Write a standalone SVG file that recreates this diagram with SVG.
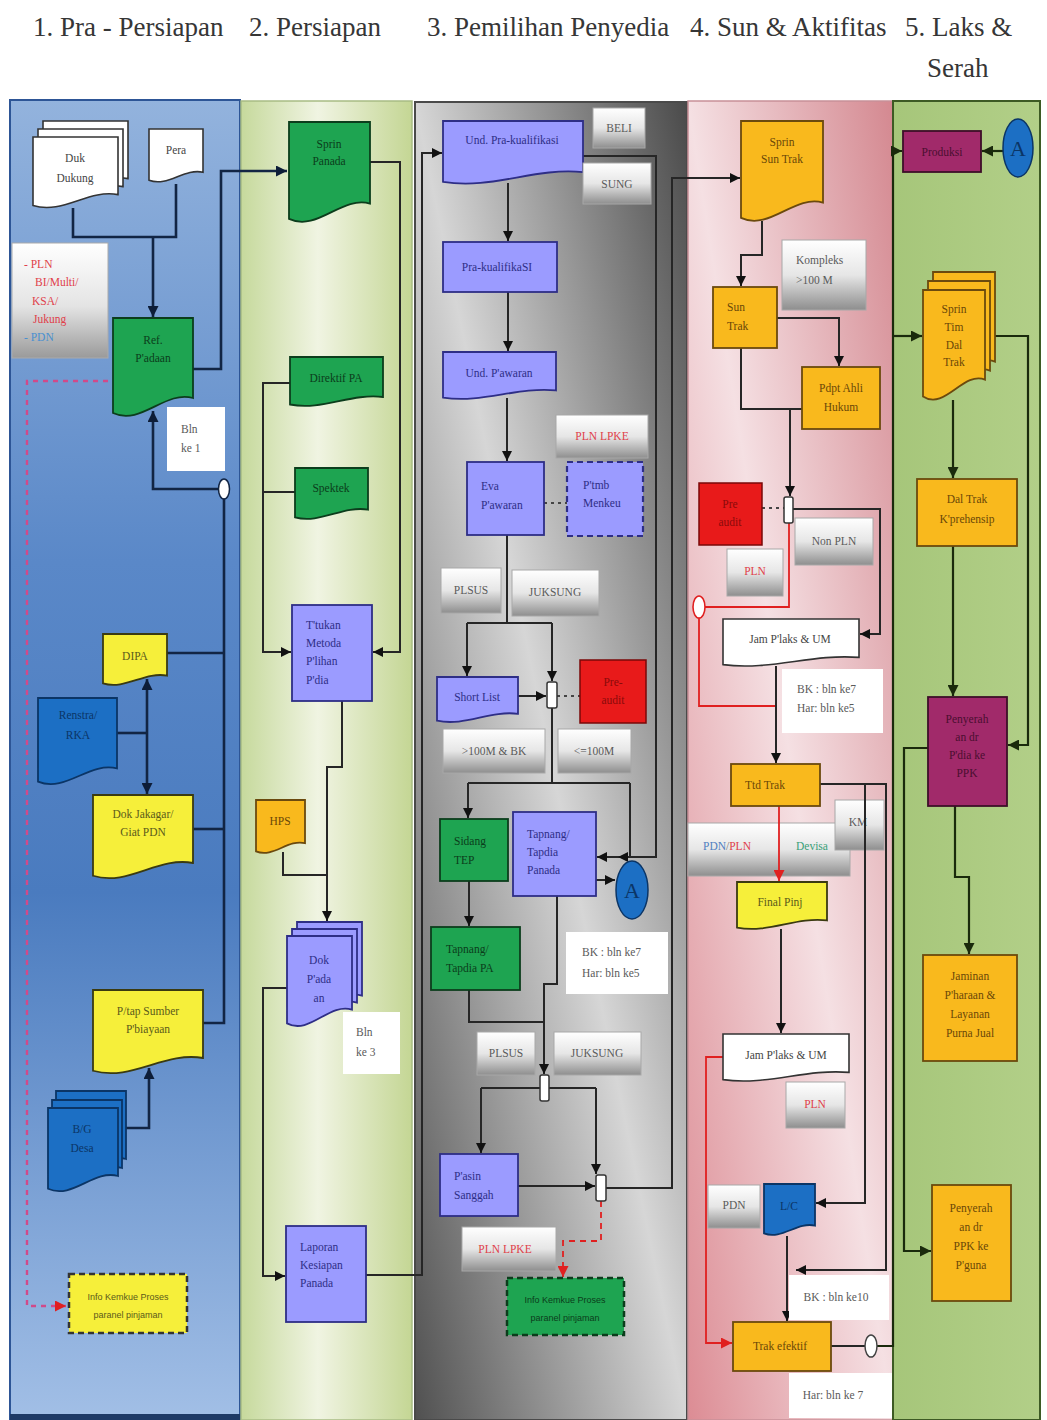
<svg xmlns="http://www.w3.org/2000/svg" width="1047" height="1420" viewBox="0 0 1047 1420">
<defs>
<linearGradient id="g1" x1="0" y1="0" x2="0" y2="1"><stop offset="0" stop-color="#93b3dd"/><stop offset="0.35" stop-color="#5a88c8"/><stop offset="0.6" stop-color="#4a7bbf"/><stop offset="1" stop-color="#a2bfe6"/></linearGradient>
<linearGradient id="g2" x1="0" y1="0" x2="1" y2="0"><stop offset="0" stop-color="#c6d99c"/><stop offset="0.45" stop-color="#f0f4e2"/><stop offset="1" stop-color="#c4d694"/></linearGradient>
<linearGradient id="g3" x1="1" y1="0" x2="0" y2="1"><stop offset="0" stop-color="#4a4a4a"/><stop offset="0.5" stop-color="#d6d6d6"/><stop offset="1" stop-color="#505050"/></linearGradient>
<linearGradient id="g4" x1="1" y1="0" x2="0" y2="1"><stop offset="0" stop-color="#d48890"/><stop offset="0.5" stop-color="#f5e0e3"/><stop offset="1" stop-color="#dc8c94"/></linearGradient>
<linearGradient id="g5" x1="0" y1="0" x2="1" y2="0"><stop offset="0" stop-color="#a6c67a"/><stop offset="1" stop-color="#b2cf88"/></linearGradient>
<linearGradient id="gGray" x1="0" y1="0" x2="0" y2="1"><stop offset="0" stop-color="#ffffff"/><stop offset="0.5" stop-color="#e6e6e6"/><stop offset="1" stop-color="#8e8e8e"/></linearGradient>
<linearGradient id="gPln" x1="0" y1="0" x2="0" y2="1"><stop offset="0" stop-color="#ffffff"/><stop offset="0.55" stop-color="#e4e4e4"/><stop offset="1" stop-color="#9a9a9a"/></linearGradient>
<marker id="a" viewBox="0 0 10 10" refX="10" refY="5" markerWidth="10" markerHeight="10" markerUnits="userSpaceOnUse" orient="auto"><path d="M0,0 L10,5 L0,10 z" fill="#111"/></marker>
<marker id="an" viewBox="0 0 10 10" refX="10" refY="5" markerWidth="11" markerHeight="11" markerUnits="userSpaceOnUse" orient="auto"><path d="M0,0 L10,5 L0,10 z" fill="#0d1d38"/></marker>
<marker id="ar" viewBox="0 0 10 10" refX="10" refY="5" markerWidth="11" markerHeight="11" markerUnits="userSpaceOnUse" orient="auto"><path d="M0,0 L10,5 L0,10 z" fill="#e02020"/></marker>
<marker id="ag" viewBox="0 0 10 10" refX="10" refY="5" markerWidth="11" markerHeight="11" markerUnits="userSpaceOnUse" orient="auto"><path d="M0,0 L10,5 L0,10 z" fill="#1a2a0c"/></marker>
</defs>
<style>
.ti{font-family:"Liberation Serif","DejaVu Serif",serif;font-size:27px;fill:#363636}
.t{font-family:"Liberation Serif","DejaVu Serif",serif;font-size:11.5px}
.s{font-family:"Liberation Sans","DejaVu Sans",sans-serif;font-size:9px}
.c{text-anchor:middle}
.pu{fill:#9b9bff;stroke:#2e2e86;stroke-width:1.8}
.gr{fill:#1ea451;stroke:#0c3d1c;stroke-width:1.8}
.ye{fill:#f6ef3a;stroke:#3a3a10;stroke-width:1.8}
.or{fill:#f9b91d;stroke:#6b4a0e;stroke-width:1.8}
.mr{fill:#a12a6a;stroke:#3d0f28;stroke-width:1.8}
.db{fill:#1c6fc4;stroke:#0b3566;stroke-width:1.8}
.wh{fill:#ffffff;stroke:#333;stroke-width:1.6}
.wb{fill:#ffffff;stroke:none}
.gy{fill:url(#gGray);stroke:#a8a8a8;stroke-width:1}
.rd{fill:#e81a1a;stroke:#7a0808;stroke-width:1.5}
.jn{fill:#ffffff;stroke:#333;stroke-width:1.5}
.tpu{fill:#2e2e86}.tgr{fill:#0b3d1b}.tye{fill:#5b5a1a}.tor{fill:#6a4708}.tmr{fill:#4a0f30}.tdb{fill:#0b3566}.tgy{fill:#5a5a5a}.trd{fill:#8a0a0a}.tred{fill:#e0404a}.tbk{fill:#444}
.ln{fill:none;stroke:#262626;stroke-width:2}
.lb{fill:none;stroke:#122544;stroke-width:2.6}
.lg{fill:none;stroke:#1a2a0c;stroke-width:2.2}
.lr{fill:none;stroke:#e02020;stroke-width:1.8}
.ldot{fill:none;stroke:#444;stroke-width:2;stroke-dasharray:3,4}
</style>

<g id="lanes">
<rect x="10" y="100" width="230" height="1320" fill="url(#g1)" stroke="#2d5596" stroke-width="2"/>
<rect x="10" y="1414" width="230" height="6" fill="#1e3a66"/>
<rect x="241" y="101" width="171" height="1319" fill="url(#g2)" stroke="#a8bc84" stroke-width="1.5"/>
<rect x="415" y="102" width="272" height="1318" fill="url(#g3)" stroke="#4a4a4a" stroke-width="2"/>
<rect x="688" y="101" width="205" height="1319" fill="url(#g4)" stroke="#c89098" stroke-width="1.5"/>
<rect x="893" y="101" width="147" height="1319" fill="url(#g5)" stroke="#3d5a24" stroke-width="2"/>
</g>

<g id="titles">
<text class="ti" x="33" y="36">1. Pra - Persiapan</text>
<text class="ti" x="249" y="36">2. Persiapan</text>
<text class="ti" x="427" y="36">3. Pemilihan Penyedia</text>
<text class="ti" x="690" y="36">4. Sun &amp; Aktifitas</text>
<text class="ti" x="905" y="36">5. Laks &amp;</text>
<text class="ti" x="927" y="77">Serah</text>
</g>

<!-- Label boxes that connectors cross over -->
<g id="n-pdnpln">
<rect class="gy" x="688" y="823" width="162" height="53"/>
<text class="t" x="703" y="850"><tspan fill="#5080c0">PDN</tspan><tspan fill="#777">/</tspan><tspan fill="#e0404a">PLN</tspan></text>
<text class="t" x="796" y="850" fill="#3aa078">Devisa</text>
</g>
<g id="n-km"><rect class="gy" x="835" y="800" width="49" height="50"/><text class="t c tgy" x="858" y="826">KM</text></g>

<g id="connectors">
<!-- lane 1 -->
<path class="lb" d="M73,208 V237 H176 V184"/>
<path class="lb" d="M153,237 V317" marker-end="url(#an)"/>
<path class="lb" d="M193,369 H221 V171 H287" marker-end="url(#an)"/>
<path class="lb" d="M219,489 H153 V411" marker-end="url(#an)"/>
<path class="lb" d="M224,499 V1023 H203"/>
<path class="lb" d="M167,653 H224"/>
<path class="lb" d="M193,829 H224"/>
<path class="lb" d="M117,733 H147"/>
<path class="lb" d="M147,733 V679" marker-end="url(#an)"/>
<path class="lb" d="M147,733 V794" marker-end="url(#an)"/>
<path class="lb" d="M123,1128 H149 V1068" marker-end="url(#an)"/>
<path d="M108,381 H27 V1306 H66" fill="none" stroke="#d04a8a" stroke-width="2.4" stroke-dasharray="5,5" marker-end="url(#ar)"/>
<!-- lane 2 -->
<path class="ln" d="M370,162 H400 V652 H373" marker-end="url(#a)"/>
<path class="ln" d="M290,383 H263 V652 H291" marker-end="url(#a)"/>
<path class="ln" d="M295,492 H263"/>
<path class="ln" d="M342,701 V767 H327 V921" marker-end="url(#a)"/>
<path class="ln" d="M283,852 V875 H327"/>
<path class="ln" d="M287,988 H263 V1276 H285" marker-end="url(#a)"/>
<path class="ln" d="M366,1275 H422 V153 H442" marker-end="url(#a)"/>
<!-- lane 3 -->
<path class="ln" d="M583,156 H656 V857 H597" marker-end="url(#a)"/>
<path class="ln" d="M508,183 V241" marker-end="url(#a)"/>
<path class="ln" d="M508,292 V351" marker-end="url(#a)"/>
<path class="ln" d="M507,398 V461" marker-end="url(#a)"/>
<path class="ldot" d="M544,503 H567"/>
<path class="ln" d="M507,535 V623"/>
<path class="ln" d="M467,623 H552"/>
<path class="ln" d="M467,623 V676" marker-end="url(#a)"/>
<path class="ln" d="M552,623 V681" marker-end="url(#a)"/>
<path class="ln" d="M518,696 H546" stroke-width="3" marker-end="url(#a)"/>
<path class="ldot" d="M557,696 H580"/>
<path class="ln" d="M552,708 V783"/>
<path class="ln" d="M468,783 H630"/>
<path class="ln" d="M468,783 V818" marker-end="url(#a)"/>
<path class="ln" d="M630,783 V857 H618" marker-end="url(#a)"/>
<path class="ln" d="M596,880 H615" marker-end="url(#a)"/>
<path class="ln" d="M469,881 V926" marker-end="url(#a)"/>
<path class="ln" d="M469,990 V1022 H544"/>
<path class="ln" d="M557,896 V984 H544 V1074" marker-end="url(#a)"/>
<path class="ln" d="M481,1088 H596"/>
<path class="ln" d="M481,1088 V1153" marker-end="url(#a)"/>
<path class="ln" d="M596,1088 V1174" marker-end="url(#a)"/>
<path class="ln" d="M518,1186 H595" marker-end="url(#a)"/>
<path class="ln" d="M606,1188 H672 V178 H740" marker-end="url(#a)"/>
<path class="lr" d="M601,1201 V1241 H563 V1277" stroke-dasharray="6,5" stroke-width="2.2" marker-end="url(#ar)"/>
<!-- lane 4 -->
<path class="ln" d="M762,221 V255 H741 V286" marker-end="url(#a)"/>
<path class="ln" d="M777,318 H839 V366" marker-end="url(#a)"/>
<path class="ln" d="M741,348 V409 H802"/>
<path class="ln" d="M790,409 V496" marker-end="url(#a)"/>
<path class="ldot" d="M762,508 H784"/>
<path class="ln" d="M793,509 H880 V634 H860" marker-end="url(#a)"/>
<path class="lr" d="M789,523 V607 H705"/>
<path class="lr" d="M699,618 V706 H776"/>
<path class="ln" d="M776,666 V763" marker-end="url(#a)"/>
<path class="ln" d="M820,784 H886 V1270 H796" marker-end="url(#a)"/>
<path class="ln" d="M865,784 V1203 H816" marker-end="url(#a)"/>
<path class="lr" d="M779,806 V881" stroke-width="2.2" marker-end="url(#ar)"/>
<path class="ln" d="M781,929 V1033" marker-end="url(#a)"/>
<path class="lr" d="M723,1057 H706 V1343 H732" marker-end="url(#ar)"/>
<path class="ln" d="M787,1236 V1321" marker-end="url(#a)"/>
<path class="ln" d="M831,1346 H865"/>
<path class="lg" d="M877,1346 H893 V151 H902" marker-end="url(#ag)"/>
<path class="lg" d="M893,336 H922" marker-end="url(#ag)"/>
<!-- lane 5 -->
<path class="lg" d="M1003,151 H982" marker-end="url(#ag)"/>
<path class="lg" d="M985,336 H1028 V745 H1008" marker-end="url(#ag)"/>
<path class="lg" d="M953,400 V478" marker-end="url(#ag)"/>
<path class="lg" d="M953,546 V696" marker-end="url(#ag)"/>
<path class="lg" d="M955,806 V877 H969 V954" marker-end="url(#ag)"/>
<path class="lg" d="M928,748 H904 V1251 H931" marker-end="url(#ag)"/>
</g>

<!-- Lane 1 nodes -->
<g id="n-duk">
<path class="wh" d="M43,121 H128 V178.6 C98.25,172.8 72.75,198.8 43,189.4 Z"/>
<path class="wh" d="M38,129 H123 V186.6 C93.25,180.8 67.75,206.8 38,197.4 Z"/>
<path class="wh" d="M33,137 H118 V194.6 C88.25,188.8 62.75,214.8 33,205.4 Z"/>
<text class="t c tbk" x="75" y="162">Duk<tspan x="75" dy="20">Dukung</tspan></text>
</g>
<g id="n-pera">
<path class="wh" d="M149,129 H203 V172.2 C184.1,167.9 167.9,187.3 149,180.3 Z"/>
<text class="t c tbk" x="176" y="154">Pera</text>
</g>
<g id="n-plnbox">
<rect x="12" y="243" width="96" height="115" fill="url(#gPln)" stroke="#aaa"/>
<text class="t tred" x="24" y="268">- PLN</text>
<text class="t tred" x="35" y="286">BI/Multi/</text>
<text class="t tred" x="32" y="305">KSA/</text>
<text class="t tred" x="33" y="323">Jukung</text>
<text class="t" x="24" y="341" fill="#4a90d0">- PDN</text>
</g>
<g id="n-ref">
<path class="gr" d="M113,318 H193 V398 C165,390 141,426 113,413 Z"/>
<text class="t c tgr" x="153" y="344">Ref.<tspan x="153" dy="18">P'adaan</tspan></text>
</g>
<g id="n-bln1">
<rect class="wb" x="167" y="407" width="58" height="64"/>
<text class="t tgy" x="181" y="433">Bln<tspan x="181" dy="19">ke 1</tspan></text>
</g>
<g id="n-junc1"><ellipse cx="224" cy="489" rx="5.5" ry="10" fill="#fff" stroke="#122544" stroke-width="1.5"/></g>
<g id="n-dipa">
<path class="ye" d="M103,634 H167 V675.6 C144.6,671.4 125.4,690.2 103,683.4 Z"/>
<text class="t c tye" x="135" y="660">DIPA</text>
</g>
<g id="n-renstra">
<path class="db" d="M38,698 H117 V768.4 C89.35,761.4 65.65,793 38,781.6 Z"/>
<text class="t c tdb" x="78" y="719">Renstra/<tspan x="78" dy="20">RKA</tspan></text>
</g>
<g id="n-jakagar">
<path class="ye" d="M93,795 H193 V863 C158,856.2 128,886.8 93,875.75 Z"/>
<text class="t c tye" x="143" y="818">Dok Jakagar/<tspan x="143" dy="18">Giat PDN</tspan></text>
</g>
<g id="n-ptap">
<path class="ye" d="M93,990 H203 V1058 C164.5,1051.2 131.5,1081.8 93,1070.75 Z"/>
<text class="t c tye" x="148" y="1015">P/tap Sumber<tspan x="148" dy="18">P'biayaan</tspan></text>
</g>
<g id="n-bgdesa">
<path class="db" d="M56,1091 H126 V1159 C101.5,1152.2 80.5,1182.8 56,1171.75 Z"/>
<path class="db" d="M52,1100 H122 V1168 C97.5,1161.2 76.5,1191.8 52,1180.75 Z"/>
<path class="db" d="M48,1108 H118 V1176 C93.5,1169.2 72.5,1199.8 48,1188.75 Z"/>
<text class="t c tdb" x="82" y="1133">B/G<tspan x="82" dy="19">Desa</tspan></text>
</g>
<g id="n-info1">
<rect x="69" y="1274" width="118" height="59" fill="#f6ef3a" stroke="#333" stroke-width="2.5" stroke-dasharray="6,4"/>
<text class="s c tye" x="128" y="1300">Info Kemkue Proses<tspan x="128" dy="18">paranel pinjaman</tspan></text>
</g>

<!-- Lane 2 nodes -->
<g id="n-sprinpanada">
<path class="gr" d="M289,122 H370 V203.6 C341.65,195.4 317.35,232.2 289,218.9 Z"/>
<text class="t c tgr" x="329" y="148">Sprin<tspan x="329" dy="17">Panada</tspan></text>
</g>
<g id="n-direktif">
<path class="gr" d="M290,357 H383 V397 C350.45,393 322.55,411 290,404.5 Z"/>
<text class="t c tgr" x="336" y="382">Direktif PA</text>
</g>
<g id="n-spektek">
<path class="gr" d="M295,468 H368 V509.6 C342.45,505.4 320.55,524.2 295,517.4 Z"/>
<text class="t c tgr" x="331" y="492">Spektek</text>
</g>
<g id="n-ttukan">
<rect class="pu" x="292" y="605" width="80" height="96"/>
<text class="t tpu" x="306" y="629">T'tukan<tspan x="306" dy="18">Metoda</tspan><tspan x="306" dy="18">P'lihan</tspan><tspan x="306" dy="19">P'dia</tspan></text>
</g>
<g id="n-hps">
<path class="or" d="M256,800 H305 V843.2 C287.85,838.9 273.15,858.3 256,851.3 Z"/>
<text class="t c tor" x="280" y="825">HPS</text>
</g>
<g id="n-dokpadaan">
<path class="pu" d="M297,922 H362 V995.6 C339.25,988.2 319.75,1021.4 297,1009.4 Z"/>
<path class="pu" d="M292,929 H357 V1002.6 C334.25,995.2 314.75,1028.4 292,1016.4 Z"/>
<path class="pu" d="M287,936 H352 V1009.6 C329.25,1002.2 309.75,1035.4 287,1023.4 Z"/>
<text class="t c tpu" x="319" y="964">Dok<tspan x="319" dy="19">P'ada</tspan><tspan x="319" dy="19">an</tspan></text>
</g>
<g id="n-bln3">
<rect class="wb" x="343" y="1012" width="57" height="62"/>
<text class="t tgy" x="356" y="1036">Bln<tspan x="356" dy="20">ke 3</tspan></text>
</g>
<g id="n-laporan">
<rect class="pu" x="286" y="1226" width="80" height="96"/>
<text class="t tpu" x="300" y="1251">Laporan<tspan x="300" dy="18">Kesiapan</tspan><tspan x="300" dy="18">Panada</tspan></text>
</g>

<!-- Lane 3 nodes -->
<g id="n-undpra">
<path class="pu" d="M443,121 H583 V172.2 C534,167.1 492,190.1 443,181.8 Z"/>
<text class="t c tpu" x="512" y="144">Und. Pra-kualifikasi</text>
</g>
<g id="n-beli"><rect class="gy" x="593" y="108" width="52" height="40"/><text class="t c tgy" x="619" y="132">BELI</text></g>
<g id="n-sung"><rect class="gy" x="583" y="163" width="68" height="41"/><text class="t c tgy" x="617" y="188">SUNG</text></g>
<g id="n-prakual">
<rect class="pu" x="443" y="242" width="114" height="50"/>
<text class="t c tpu" x="497" y="271">Pra-kualifikaSI</text>
</g>
<g id="n-undpawaran">
<path class="pu" d="M443,352 H556 V390.4 C516.45,386.6 482.55,403.8 443,397.6 Z"/>
<text class="t c tpu" x="499" y="377">Und. P'awaran</text>
</g>
<g id="n-plnlpke1"><rect class="gy" x="556" y="415" width="92" height="43"/><text class="t c tred" x="602" y="440">PLN LPKE</text></g>
<g id="n-eva">
<rect class="pu" x="467" y="462" width="77" height="73"/>
<text class="t tpu" x="481" y="490">Eva<tspan x="481" dy="19">P'awaran</tspan></text>
</g>
<g id="n-ptmb">
<rect x="567" y="462" width="76" height="74" fill="#9b9bff" stroke="#2e2e86" stroke-width="2.2" stroke-dasharray="6,4"/>
<text class="t tpu" x="583" y="489">P'tmb<tspan x="583" dy="18">Menkeu</tspan></text>
</g>
<g id="n-plsus1"><rect class="gy" x="441" y="568" width="60" height="45"/><text class="t c tgy" x="471" y="594">PLSUS</text></g>
<g id="n-juksung1"><rect class="gy" x="512" y="570" width="87" height="46"/><text class="t c tgy" x="555" y="596">JUKSUNG</text></g>
<g id="n-shortlist">
<path class="pu" d="M437,677 H518 V713.8 C489.65,710.1 465.35,726.7 437,720.7 Z"/>
<text class="t c tpu" x="477" y="701">Short List</text>
</g>
<g id="n-j2"><rect class="jn" x="547" y="682" width="10" height="26" rx="2"/></g>
<g id="n-preaudit1">
<rect class="rd" x="580" y="660" width="66" height="63"/>
<text class="t c trd" x="613" y="686">Pre-<tspan x="613" dy="18">audit</tspan></text>
</g>
<g id="n-gt100"><rect class="gy" x="443" y="729" width="102" height="44"/><text class="t c tgy" x="494" y="755">&gt;100M &amp; BK</text></g>
<g id="n-le100"><rect class="gy" x="558" y="729" width="73" height="44"/><text class="t c tgy" x="594" y="755">&lt;=100M</text></g>
<g id="n-sidang">
<rect class="gr" x="440" y="819" width="68" height="62"/>
<text class="t tgr" x="454" y="845">Sidang<tspan x="454" dy="19">TEP</tspan></text>
</g>
<g id="n-tapnangpanada">
<rect class="pu" x="513" y="812" width="83" height="84"/>
<text class="t tpu" x="527" y="838">Tapnang/<tspan x="527" dy="18">Tapdia</tspan><tspan x="527" dy="18">Panada</tspan></text>
</g>
<g id="n-a1">
<ellipse cx="632" cy="890" rx="16" ry="29" fill="#1c6fc4" stroke="#0b3566" stroke-width="1.5"/>
<text x="632" y="898" class="c" font-family="Liberation Serif,serif" font-size="22" fill="#0b3566">A</text>
</g>
<g id="n-bk1">
<rect class="wb" x="566" y="932" width="102" height="62"/>
<text class="t tgy" x="582" y="956">BK : bln ke7<tspan x="582" dy="21">Har: bln ke5</tspan></text>
</g>
<g id="n-tapnangpa">
<rect class="gr" x="431" y="927" width="89" height="63"/>
<text class="t tgr" x="446" y="953">Tapnang/<tspan x="446" dy="19">Tapdia PA</tspan></text>
</g>
<g id="n-plsus2"><rect class="gy" x="477" y="1032" width="58" height="43"/><text class="t c tgy" x="506" y="1057">PLSUS</text></g>
<g id="n-juksung2"><rect class="gy" x="554" y="1032" width="87" height="43"/><text class="t c tgy" x="597" y="1057">JUKSUNG</text></g>
<g id="n-j3"><rect class="jn" x="540" y="1075" width="9" height="26" rx="2"/></g>
<g id="n-pasin">
<rect class="pu" x="440" y="1154" width="78" height="62"/>
<text class="t tpu" x="454" y="1180">P'asin<tspan x="454" dy="19">Sanggah</tspan></text>
</g>
<g id="n-j4"><rect class="jn" x="596" y="1175" width="10" height="26" rx="2"/></g>
<g id="n-plnlpke2"><rect class="gy" x="462" y="1227" width="94" height="44"/><text class="t c tred" x="505" y="1253">PLN LPKE</text></g>
<g id="n-info2">
<rect x="507" y="1278" width="117" height="57" fill="#1ea451" stroke="#0c3d1c" stroke-width="2.5" stroke-dasharray="6,4"/>
<text class="s c tgr" x="565" y="1303">Info Kemkue Proses<tspan x="565" dy="18">paranel pinjaman</tspan></text>
</g>

<!-- Lane 4 nodes -->
<g id="n-sprinsun">
<path class="or" d="M741,121 H823 V202.6 C794.3,194.4 769.7,231.2 741,217.9 Z"/>
<text class="t c tor" x="782" y="146">Sprin<tspan x="782" dy="17">Sun Trak</tspan></text>
</g>
<g id="n-kompleks">
<rect class="gy" x="782" y="240" width="84" height="70"/>
<text class="t tgy" x="796" y="264">Kompleks<tspan x="796" dy="20">&gt;100 M</tspan></text>
</g>
<g id="n-suntrak">
<rect class="or" x="713" y="287" width="64" height="61"/>
<text class="t tor" x="727" y="311">Sun<tspan x="727" dy="19">Trak</tspan></text>
</g>
<g id="n-pdpt">
<rect class="or" x="802" y="367" width="78" height="62"/>
<text class="t c tor" x="841" y="392">Pdpt Ahli<tspan x="841" dy="19">Hukum</tspan></text>
</g>
<g id="n-preaudit2">
<rect class="rd" x="699" y="483" width="63" height="62"/>
<text class="t c trd" x="730" y="508">Pre<tspan x="730" dy="18">audit</tspan></text>
</g>
<g id="n-j5"><rect class="jn" x="784" y="497" width="9" height="26" rx="2"/></g>
<g id="n-nonpln"><rect class="gy" x="795" y="518" width="78" height="47"/><text class="t c tgy" x="834" y="545">Non PLN</text></g>
<g id="n-pln1"><rect class="gy" x="727" y="549" width="56" height="47"/><text class="t c tred" x="755" y="575">PLN</text></g>
<g id="n-redjunc"><ellipse cx="699" cy="607" rx="6" ry="11" fill="#fff" stroke="#e02020" stroke-width="1.6"/></g>
<g id="n-jam1">
<path class="wh" d="M723,619 H859 V657.4 C811.4,653.6 770.6,670.8 723,664.6 Z"/>
<text class="t c tbk" x="790" y="643">Jam P'laks &amp; UM</text>
</g>
<g id="n-bk2">
<rect class="wb" x="782" y="669" width="101" height="64"/>
<text class="t tgy" x="797" y="693">BK : bln ke7<tspan x="797" dy="19">Har: bln ke5</tspan></text>
</g>
<g id="n-ttd">
<rect class="or" x="731" y="764" width="89" height="42"/>
<text class="t tor" x="745" y="789">Ttd Trak</text>
</g>
<g id="n-final">
<path class="ye" d="M737,882 H827 V920.4 C795.5,916.6 768.5,933.8 737,927.6 Z"/>
<text class="t c tye" x="780" y="906">Final Pinj</text>
</g>
<g id="n-jam2">
<path class="wh" d="M723,1034 H849 V1072.4 C804.9,1068.6 767.1,1085.8 723,1079.6 Z"/>
<text class="t c tbk" x="786" y="1059">Jam P'laks &amp; UM</text>
</g>
<g id="n-pln2"><rect class="gy" x="786" y="1082" width="59" height="46"/><text class="t c tred" x="815" y="1108">PLN</text></g>
<g id="n-pdn"><rect class="gy" x="708" y="1185" width="52" height="43"/><text class="t c tgy" x="734" y="1209">PDN</text></g>
<g id="n-lc">
<path class="db" d="M764,1184 H815 V1225.6 C797.15,1221.4 781.85,1240.2 764,1233.4 Z"/>
<text class="t c tdb" x="789" y="1210">L/C</text>
</g>
<g id="n-bk3">
<rect class="wb" x="789" y="1275" width="100" height="45"/>
<text class="t c tgy" x="836" y="1301">BK : bln ke10</text>
</g>
<g id="n-trakefektif">
<rect class="or" x="733" y="1322" width="98" height="49"/>
<text class="t c tor" x="780" y="1350">Trak efektif</text>
</g>
<g id="n-junc6"><ellipse cx="871" cy="1346" rx="6" ry="11" fill="#fff" stroke="#444" stroke-width="1.5"/></g>
<g id="n-har7">
<rect class="wb" x="789" y="1373" width="103" height="45"/>
<text class="t c tgy" x="833" y="1399">Har: bln ke 7</text>
</g>

<!-- Lane 5 nodes -->
<g id="n-produksi">
<rect class="mr" x="903" y="131" width="78" height="41"/>
<text class="t c tmr" x="942" y="156">Produksi</text>
</g>
<g id="n-a2">
<ellipse cx="1018" cy="148" rx="15" ry="29" fill="#1c6fc4" stroke="#0b3566" stroke-width="1.5"/>
<text x="1018" y="156" class="c" font-family="Liberation Serif,serif" font-size="22" fill="#0b3566">A</text>
</g>
<g id="n-sprintim">
<path class="or" d="M933,272 H995 V361.6 C973.3,352.6 954.7,393 933,378.4 Z"/>
<path class="or" d="M928,281 H990 V370.6 C968.3,361.6 949.7,402 928,387.4 Z"/>
<path class="or" d="M923,290 H985 V379.6 C963.3,370.6 944.7,411 923,396.4 Z"/>
<text class="t c tor" x="954" y="313">Sprin<tspan x="954" dy="18">Tim</tspan><tspan x="954" dy="18">Dal</tspan><tspan x="954" dy="17">Trak</tspan></text>
</g>
<g id="n-daltrak">
<rect class="or" x="917" y="479" width="100" height="67"/>
<text class="t c tor" x="967" y="503">Dal Trak<tspan x="967" dy="20">K'prehensip</tspan></text>
</g>
<g id="n-penyerah1">
<rect class="mr" x="928" y="697" width="79" height="109"/>
<text class="t c tmr" x="967" y="723">Penyerah<tspan x="967" dy="18">an dr</tspan><tspan x="967" dy="18">P'dia ke</tspan><tspan x="967" dy="18">PPK</tspan></text>
</g>
<g id="n-jaminan">
<rect class="or" x="923" y="955" width="94" height="106"/>
<text class="t c tor" x="970" y="980">Jaminan<tspan x="970" dy="19">P'haraan &amp;</tspan><tspan x="970" dy="19">Layanan</tspan><tspan x="970" dy="19">Purna Jual</tspan></text>
</g>
<g id="n-penyerah2">
<rect class="or" x="932" y="1185" width="79" height="116"/>
<text class="t c tor" x="971" y="1212">Penyerah<tspan x="971" dy="19">an dr</tspan><tspan x="971" dy="19">PPK ke</tspan><tspan x="971" dy="19">P'guna</tspan></text>
</g>
</svg>
